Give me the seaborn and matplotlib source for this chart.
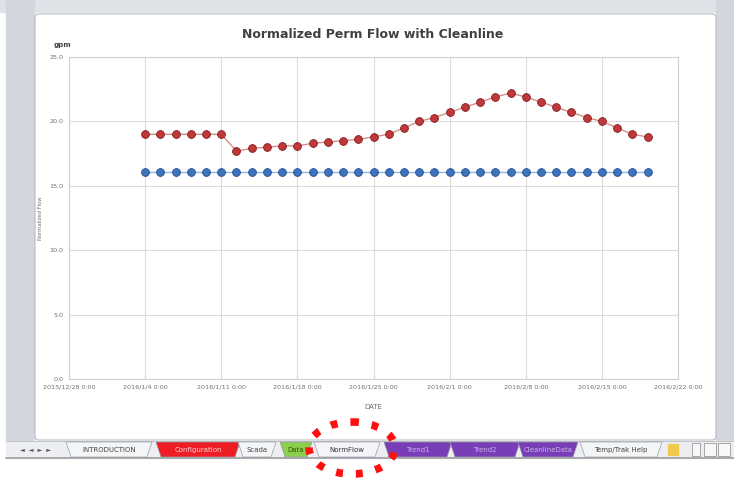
import matplotlib
matplotlib.use("Agg")
import matplotlib.pyplot as plt
import seaborn as sns
import pandas as pd
from matplotlib.patches import Rectangle, FancyBboxPatch, Ellipse, Polygon

# ---------------- data ----------------
dates = ["2016-01-04 00:00", "2016-01-05 09:36", "2016-01-06 19:12", "2016-01-08 04:48",
         "2016-01-09 14:24", "2016-01-11 00:00", "2016-01-12 09:36", "2016-01-13 19:12",
         "2016-01-15 04:48", "2016-01-16 14:24", "2016-01-18 00:00", "2016-01-19 09:36",
         "2016-01-20 19:12", "2016-01-22 04:48", "2016-01-23 14:24", "2016-01-25 00:00",
         "2016-01-26 09:36", "2016-01-27 19:12", "2016-01-29 04:48", "2016-01-30 14:24",
         "2016-02-01 00:00", "2016-02-02 09:36", "2016-02-03 19:12", "2016-02-05 04:48",
         "2016-02-06 14:24", "2016-02-08 00:00", "2016-02-09 09:36", "2016-02-10 19:12",
         "2016-02-12 04:48", "2016-02-13 14:24", "2016-02-15 00:00", "2016-02-16 09:36",
         "2016-02-17 19:12", "2016-02-19 04:48"]
perm_flow = [19.0, 19.0, 19.0, 19.0, 19.0, 19.0, 17.7, 17.9, 18.0, 18.1, 18.1, 18.3,
             18.4, 18.5, 18.6, 18.8, 19.0, 19.5, 20.0, 20.3, 20.7, 21.1, 21.5, 21.9,
             22.2, 21.9, 21.5, 21.1, 20.7, 20.3, 20.0, 19.5, 19.0, 18.8]
cleanline = [16.1, 16.1, 16.1, 16.1, 16.1, 16.1, 16.1, 16.1, 16.1, 16.1, 16.1, 16.1,
             16.1, 16.1, 16.1, 16.1, 16.1, 16.1, 16.1, 16.1, 16.1, 16.1, 16.1, 16.1,
             16.1, 16.1, 16.1, 16.1, 16.1, 16.1, 16.1, 16.1, 16.1, 16.1]
tick_dates = ["2015-12-28", "2016-01-04", "2016-01-11", "2016-01-18", "2016-01-25",
              "2016-02-01", "2016-02-08", "2016-02-15", "2016-02-22"]
tick_labels = ["2015/12/28 0:00", "2016/1/4 0:00", "2016/1/11 0:00", "2016/1/18 0:00",
               "2016/1/25 0:00", "2016/2/1 0:00", "2016/2/8 0:00", "2016/2/15 0:00",
               "2016/2/22 0:00"]
y_ticks = [0, 5, 10, 15, 20, 25]
y_tick_labels = ["0.0", "5.0", "10.0", "15.0", "20.0", "25.0"]
sheet_tabs = ["INTRODUCTION", "Configuration", "Scada", "Data", "NormFlow",
              "Trend1", "Trend2", "CleanlineData", "Temp/Trak Help"]

# ---------------- figure ----------------
sns.set_theme(style="white")
plt.rcParams['font.family'] = ['DejaVu Sans']
W, H = 734, 479
fig = plt.figure(figsize=(W / 100, H / 100), dpi=100)
fig.patch.set_facecolor("white")

bg = fig.add_axes([0, 0, 1, 1])
bg.set_xlim(0, W)
bg.set_ylim(H, 0)
bg.axis("off")

# Excel window chrome
bg.add_patch(Rectangle((0, 0), W, 12, color="#dfe2e7", zorder=0))
bg.add_patch(Rectangle((6, 0), 28, 441, color="#d3d7dd", zorder=0))
bg.add_patch(Rectangle((716, 0), 18, 441, color="#d3d7dd", zorder=0))
bg.add_patch(FancyBboxPatch((35, 14), 681, 426, boxstyle="round,pad=0,rounding_size=4",
                            facecolor="white", edgecolor="#b8bcc2", lw=0.8, zorder=1))
# tab bar
bg.add_patch(Rectangle((6, 441), 728, 17, color="#eceef1", zorder=1))
bg.plot([6, 734], [458, 458], color="#9a9ea4", lw=1.2, zorder=2)
bg.plot([6, 734], [441, 441], color="#b8bcc2", lw=0.6, zorder=2)
bg.text(35, 450, "◄  ◄  ►  ►", fontsize=4.5, color="#555555", ha="center", va="center", zorder=3)

tab_specs = [  # (x0, x1, face, text colour)
    (66, 152, "#f4f5f7", "#444444"),
    (156, 240, "#ee1c24", "#ffd6d6"),
    (238, 276, "#f4f5f7", "#444444"),
    (280, 312, "#8ccf4d", "#2d5a00"),
    (314, 380, "#f7f3fb", "#333333"),
    (384, 452, "#7a3db8", "#c8b2e8"),
    (450, 520, "#7a3db8", "#c8b2e8"),
    (518, 578, "#7a3db8", "#c8b2e8"),
    (580, 662, "#f4f5f7", "#444444"),
]
for (x0, x1, face, tc), name in zip(tab_specs, sheet_tabs):
    bg.add_patch(Polygon([(x0, 442), (x1, 442), (x1 - 5, 457), (x0 + 5, 457)],
                         closed=True, facecolor=face, edgecolor="#9a9ea4", lw=0.5, zorder=3))
    bg.text((x0 + x1) / 2, 450, name, fontsize=5, color=tc, ha="center", va="center", zorder=4)
bg.add_patch(Rectangle((668, 444), 10, 11, color="#f2c94c", zorder=3))
bg.add_patch(Rectangle((692, 443), 8, 13, facecolor="#f7f7f7", edgecolor="#888888", lw=0.5, zorder=3))
bg.add_patch(Rectangle((704, 443), 12, 13, facecolor="#f7f7f7", edgecolor="#888888", lw=0.5, zorder=3))
bg.add_patch(Rectangle((718, 443), 12, 13, facecolor="#f7f7f7", edgecolor="#888888", lw=0.5, zorder=3))

# red dotted highlight ring
bg.add_patch(Ellipse((352, 448), 86, 52, fill=False, edgecolor="#ff1010", lw=5.5,
                     linestyle=(0, (0.9, 1.7)), zorder=5))

# ---------------- chart ----------------
L, R, T, B = 69, 678, 57, 379
ax = fig.add_axes([L / W, 1 - B / H, (R - L) / W, (B - T) / H])
ax.set_facecolor("white")

df = pd.DataFrame({"DATE": pd.to_datetime(dates),
                   "Normalized Perm Flow": perm_flow,
                   "Cleanline": cleanline})

sns.lineplot(data=df, x="DATE", y="Cleanline", ax=ax, color="#8db3e2", lw=1.0,
             marker="o", markersize=5.6, markerfacecolor="#3d74bd",
             markeredgecolor="#234f8c", markeredgewidth=0.6, zorder=3)
sns.lineplot(data=df, x="DATE", y="Normalized Perm Flow", ax=ax, color="#d98c8a", lw=1.0,
             marker="o", markersize=5.6, markerfacecolor="#c0383a",
             markeredgecolor="#7f1c1c", markeredgewidth=0.6, zorder=4)

ax.set_xlim(pd.Timestamp(tick_dates[0]), pd.Timestamp(tick_dates[-1]))
ax.set_ylim(y_ticks[0], y_ticks[-1])
ax.set_xticks(pd.to_datetime(tick_dates))
ax.set_xticklabels(tick_labels)
ax.set_yticks(y_ticks)
ax.set_yticklabels(y_tick_labels)
ax.tick_params(axis="both", labelsize=4.6, colors="#6f6f6f", length=0, pad=4)
ax.grid(True, color="#dcdcdc", lw=0.8)
for s in ax.spines.values():
    s.set_color("#d0d0d0")
    s.set_linewidth(0.8)
ax.set_xlabel("")
ax.set_ylabel("")

def fx(x):
    return x / W

def fy(y):
    return 1 - y / H

fig.text(fx(373), fy(35), "Normalized Perm Flow with Cleanline", fontsize=9,
         fontweight="bold", color="#404040", ha="center", va="center")
fig.text(fx(62), fy(45), "gpm", fontsize=5, fontweight="bold", color="#404040",
         ha="center", va="center")
fig.text(fx(373), fy(407), "DATE", fontsize=5, color="#6f6f6f", ha="center", va="center")
fig.text(fx(41), fy(218), "Normalized Flow", fontsize=3.8, color="#6f6f6f",
         ha="center", va="center", rotation=90)

fig.savefig("out.png", dpi=100, facecolor="white")
